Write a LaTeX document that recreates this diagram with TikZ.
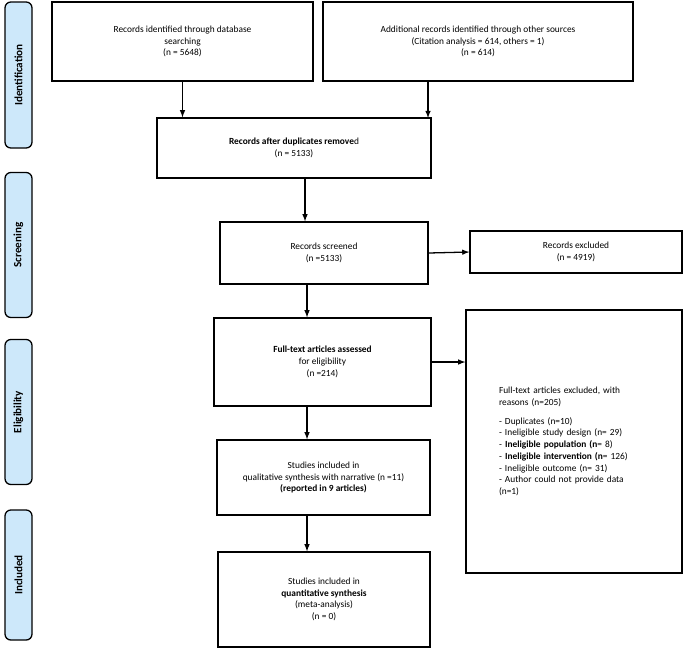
\documentclass[tikz,border=0pt]{standalone}
\usepackage{fontspec}
\setmainfont{Carlito}
\usetikzlibrary{arrows}
\definecolor{phase}{RGB}{205,232,250}

\begin{document}
\begin{tikzpicture}[x=0.03cm,y=-0.03cm,>=latex,line width=1.1pt,
                    font=\fontsize{8}{10}\selectfont]

  \tikzstyle{box}=[draw,rectangle,align=center,inner sep=2pt]
  \tikzstyle{phase}=[draw,rounded corners=5pt,fill=phase,minimum width=27*0.03cm]
  \tikzstyle{tag}=[rotate=90,font=\fontsize{9.5}{11}\selectfont\bfseries]

  \useasboundingbox (0,0) rectangle (685,658);

  \node[phase,minimum height=146*0.03cm] (ID) at (18.5,75)  {};
  \node[tag] at (ID) {Identification};
  \node[phase,minimum height=145*0.03cm] (SC) at (18.5,245) {};
  \node[tag] at (SC) {Screening};
  \node[phase,minimum height=145*0.03cm] (EL) at (18.5,412) {};
  \node[tag] at (EL) {Eligibility};
  \node[phase,minimum height=130*0.03cm] (IN) at (18.5,575) {};
  \node[tag] at (IN) {Included};

  \node[box,minimum width=261*0.03cm,minimum height=79*0.03cm] (DB)  at (182.5,41.5)
    {Records identified through database\\searching\\(n = 5648)};
  \node[box,minimum width=310*0.03cm,minimum height=79*0.03cm] (OTH) at (478,41.5)
    {Additional records identified through other sources\\(Citation analysis = 614, others = 1)\\(n = 614)};
  \node[box,minimum width=274*0.03cm,minimum height=60*0.03cm] (DUP) at (294,148)
    {\textbf{Records after duplicates remove}d\\(n = 5133)};
  \node[box,minimum width=208*0.03cm,minimum height=62*0.03cm] (SCR) at (324,253)
    {Records screened\\(n =5133)};
  \node[box,minimum width=212*0.03cm,minimum height=42*0.03cm] (EXC) at (576,252)
    {Records excluded\\(n = 4919)};
  \node[box,minimum width=217*0.03cm,minimum height=88*0.03cm] (FT)  at (322.5,362)
    {\textbf{Full-text articles assessed}\\for eligibility\\(n =214)};
  \node[box,minimum width=216*0.03cm,minimum height=263*0.03cm,align=left,text width=150*0.03cm] (FTX) at (574,441.5)
    {Full-text articles excluded, with\\reasons (n=205)\\[6pt]
     - Duplicates (n=10)\\
     - Ineligible study design (n= 29)\\
     - \textbf{Ineligible population (n}= 8)\\
     - \textbf{Ineligible intervention (n}= 126)\\
     - Ineligible outcome (n= 31)\\
     - Author could not provide data\\(n=1)};
  \node[box,minimum width=213*0.03cm,minimum height=75*0.03cm] (QUAL) at (323.5,477.5)
    {Studies included in\\qualitative synthesis with narrative (n =11)\\\textbf{(reported in 9 articles)}};
  \node[box,minimum width=212*0.03cm,minimum height=95*0.03cm] (QUAN) at (324,599.5)
    {Studies included in\\\textbf{quantitative synthesis}\\(meta-analysis)\\(n = 0)};

  \draw[->] (DB.south) -- (DB.south |- DUP.north);
  \draw[->] (OTH.south -| 428,0) -- (428,118);
  \draw[->] (DUP.south -| 305,0) -- (SCR.north -| 305,0);
  \draw[->] (SCR.east) -- (EXC.west);
  \draw[->] (SCR.south -| 307,0) -- (FT.north -| 307,0);
  \draw[->] (FT.east) -- (FTX.west |- FT.east);
  \draw[->] (FT.south -| 307,0) -- (QUAL.north -| 307,0);
  \draw[->] (QUAL.south -| 307,0) -- (QUAN.north -| 307,0);
\end{tikzpicture}
\end{document}
